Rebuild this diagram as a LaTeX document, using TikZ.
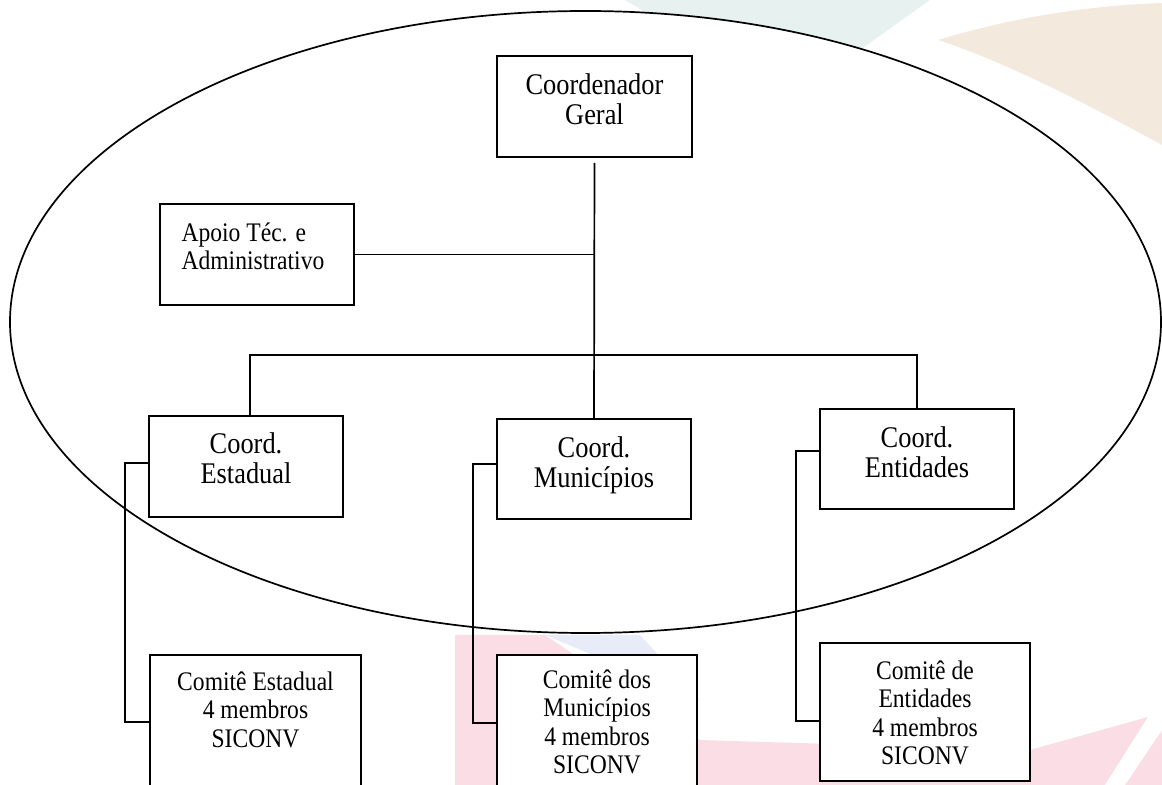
\documentclass[tikz,border=0pt]{standalone}
\usepackage{fontspec}
\setmainfont{Liberation Serif}[FakeStretch=0.88]
\usetikzlibrary{positioning}
\pgfdeclarelayer{background}
\pgfsetlayers{background,main}

\definecolor{wmBlue}{RGB}{230,241,240}
\definecolor{wmTan}{RGB}{243,233,221}
\definecolor{wmPink}{RGB}{250,221,229}
\definecolor{wmSky}{RGB}{232,236,248}

\begin{document}
\begin{tikzpicture}[x=0.5pt, y=-0.5pt]

% Box and text styles
\tikzset{box/.style={draw, fill = white, line width = 0.85pt, inner sep = 0pt}}
\tikzset{bigT/.style={inner sep = 0pt, align = center, font = \fontsize{15}{15}\selectfont}}
\tikzset{smallT/.style={inner sep = 0pt, align = center, font = \fontsize{13.4}{14.25}\selectfont}}
\tikzset{link/.style={line width = 0.85pt}}

\useasboundingbox (0,0) rectangle (1162,785);

% Background image
\begin{pgfonlayer}{background}
	\fill[wmBlue] (625,0) -- (930,0) -- (860,50) -- (700,45) -- cycle;
	\fill[wmTan] (938,40) .. controls (1020,15) and (1100,5) .. (1162,3) -- (1162,145) .. controls (1080,100) and (1000,60) .. (938,40);
	\fill[wmPink] (455,635) -- (545,635) -- (700,740) -- (1030,750) -- (1148,717) -- (1162,717) -- (1162,785) -- (455,785) -- cycle;
	\fill[wmSky] (545,635) -- (640,635) -- (700,700) -- cycle;
	\fill[white] (1148,717) -- (1162,705) -- (1162,730) -- (1125,785) -- (1105,785) -- cycle;
\end{pgfonlayer}

% Outer ellipse
\node (ring) at (585.5,322) {};
\draw[link, fill = white] (ring.center) ellipse [x radius = 287.75pt, y radius = 155.5pt];

% Boxes
\node (cg) [box, minimum width = 97.5pt, minimum height = 50.5pt] at (594.5,106.5) {};
\node (ap) [box, minimum width = 97pt, minimum height = 50.5pt] at (257,254.5) {};

\node (ce) [box, minimum width = 97pt, minimum height = 50.5pt] at (246,466.5) {};
\node (cm) [box, minimum width = 97pt, minimum height = 50pt] at (594,469) {};
\node (cn) [box, minimum width = 97pt, minimum height = 50pt] at (917,459) {};

\node (ke) [box, minimum width = 105.5pt, minimum height = 75pt] at (255.5,730) {};
\node (km) [box, minimum width = 100pt, minimum height = 75pt] at (597,730) {};
\node (kn) [box, minimum width = 105pt, minimum height = 69pt] at (925,712) {};

% Box texts
\node (cgT) [bigT, below = 9pt of cg.north] {Coordenador\\Geral};
\node (apT) [smallT, align = left, below right = 9.5pt and 11pt of ap.north west] {Apoio Téc. e\\Administrativo};

\node (ceT) [bigT, below = 8.5pt of ce.north] {Coord.\\Estadual};
\node (cmT) [bigT, below = 9pt of cm.north] {Coord.\\Municípios};
\node (cnT) [bigT, below = 9pt of cn.north] {Coord.\\Entidades};

\node (keT) [smallT, below = 8.5pt of ke.north] {Comitê Estadual\\4 membros\\SICONV};
\node (kmT) [smallT, below = 7.5pt of km.north] {Comitê dos\\Municípios\\4 membros\\SICONV};
\node (knT) [smallT, below = 9pt of kn.north] {Comitê de\\Entidades\\4 membros\\SICONV};

% Junctions
\coordinate (bus) at (596,355);
\coordinate (bE1) at (125,463);
\coordinate (bE2) at (125,722);
\coordinate (bM1) at (473,464);
\coordinate (bM2) at (473,723);
\coordinate (bN1) at (796,451);
\coordinate (bN2) at (796,721);

% Edges
\draw[link, shorten <= 2.5pt] (cg.south) -- (cm.north);
\draw[link] (ap.east) -- (ap.east -| cm.north);
\draw[link] ([xshift = 2pt]ce.north) |- (bus) -| (cn.north);

\draw[link] (ce.west |- bE1) -- (bE1) -- (bE2) -- (ke.west |- bE2);
\draw[link] (cm.west |- bM1) -- (bM1) -- (bM2) -- (km.west |- bM2);
\draw[link] (cn.west |- bN1) -- (bN1) -- (bN2) -- (kn.west |- bN2);

\end{tikzpicture}
\end{document}
